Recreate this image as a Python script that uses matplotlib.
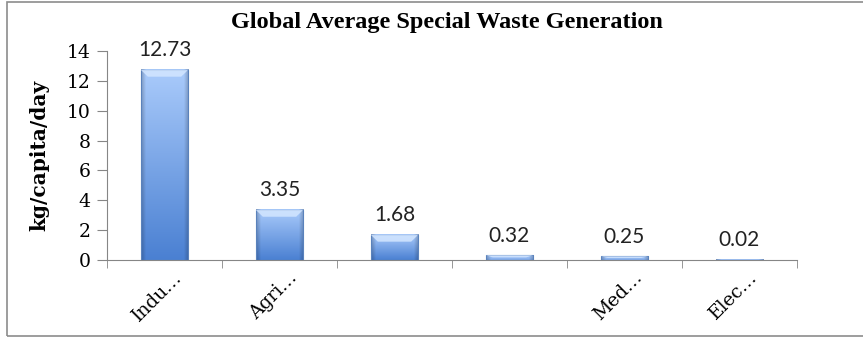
import matplotlib
matplotlib.use("Agg")
import matplotlib.pyplot as plt
import matplotlib.transforms as mtransforms
from matplotlib.colors import to_rgb
from matplotlib.patches import Rectangle, Polygon
import numpy as np

# special waste generation, kg per capita per day
categories = ["Indu…", "Agri…", "", "", "Med…", "Elec…"]
values = [12.73, 3.35, 1.68, 0.32, 0.25, 0.02]
labels = ["12.73", "3.35", "1.68", "0.32", "0.25", "0.02"]
yticks = [0, 2, 4, 6, 8, 10, 12, 14]

fig = plt.figure(figsize=(8.63, 3.39), dpi=100)
ax = fig.add_axes([0.1240, 0.233, 0.7995, 0.6166])

x = np.arange(len(values))
width = 0.41
bars = ax.bar(x, values, width=width, color="none", edgecolor="none", zorder=2)


def bar_image(h):
    # light blue on top fading to a deeper blue at the base, darker near the sides
    top = np.array(to_rgb("#aacbfb"))
    bottom = np.array(to_rgb("#4a80d2"))
    ny = 200
    t = np.linspace(0, 1, ny).reshape(-1, 1, 1)
    if h < 1:
        t = 0.55 + 0.45 * t
    col = bottom + (top - bottom) * t
    xs = np.linspace(-1, 1, 60)
    side = 1 - 0.22 * np.clip((np.abs(xs) - 0.8) / 0.2, 0, 1)
    img = col * side.reshape(1, -1, 1)
    return np.clip(img, 0, 1)


for b in bars:
    x0, w, h = b.get_x(), b.get_width(), b.get_height()
    if h <= 0:
        continue
    ax.imshow(bar_image(h), origin="lower", aspect="auto",
              extent=(x0, x0 + w, 0, h), zorder=2, interpolation="bilinear")
    ax.add_patch(Rectangle((x0, 0), w, h, facecolor="none",
                           edgecolor="#5a82bc", linewidth=0.8, zorder=3))
    # bevelled cap on top of the bar
    cap = min(0.45, h * 0.45)
    inset = 0.06
    ax.add_patch(Polygon([(x0, h), (x0 + w, h), (x0 + w - inset, h - cap), (x0 + inset, h - cap)],
                         closed=True, facecolor="#d3e6ff", edgecolor="none", alpha=0.85, zorder=3))

for xi, v, s in zip(x, values, labels):
    ax.annotate(s, (xi, v), xytext=(0, 7), textcoords="offset points",
                ha="center", va="bottom", fontsize=15, family="Lato", color="#222222")

ax.set_xlim(-0.5, len(values) - 0.5)
ax.set_ylim(0, 14)
ax.set_yticks(yticks)
ax.set_yticklabels([str(t) for t in yticks], family="DejaVu Serif", fontsize=13.5)
ax.set_xticks(np.arange(len(values) + 1) - 0.5, minor=True)
ax.set_xticks(x)
ax.set_xticklabels(categories, rotation=45, ha="right", fontsize=13.5, family="DejaVu Serif")
ax.tick_params(axis="x", which="major", length=0, pad=6)
ax.tick_params(axis="x", which="minor", length=6, color="#868686", direction="out")
ax.tick_params(axis="y", length=7, color="#868686", direction="out", pad=5)
offset = mtransforms.ScaledTranslation(0.21, 0, fig.dpi_scale_trans)
for lab in ax.get_xticklabels():
    lab.set_transform(lab.get_transform() + offset)

for side in ["top", "right"]:
    ax.spines[side].set_visible(False)
for side in ["left", "bottom"]:
    ax.spines[side].set_color("#868686")

ax.set_ylabel("kg/capita/day", family="DejaVu Serif", fontweight="bold", fontsize=14.5)
ax.yaxis.set_label_coords(-0.083, 0.5)

fig.text(0.518, 0.935, "Global Average Special Waste Generation", ha="center", va="center",
         family="Liberation Serif", fontweight="bold", fontsize=17.5)

# chart frame
fig.patches.append(Rectangle((0.008, 0.008), 1.1, 0.985, transform=fig.transFigure,
                             facecolor="none", edgecolor="#8c8c8c", linewidth=1.2))

fig.savefig("out.png", dpi=100)
